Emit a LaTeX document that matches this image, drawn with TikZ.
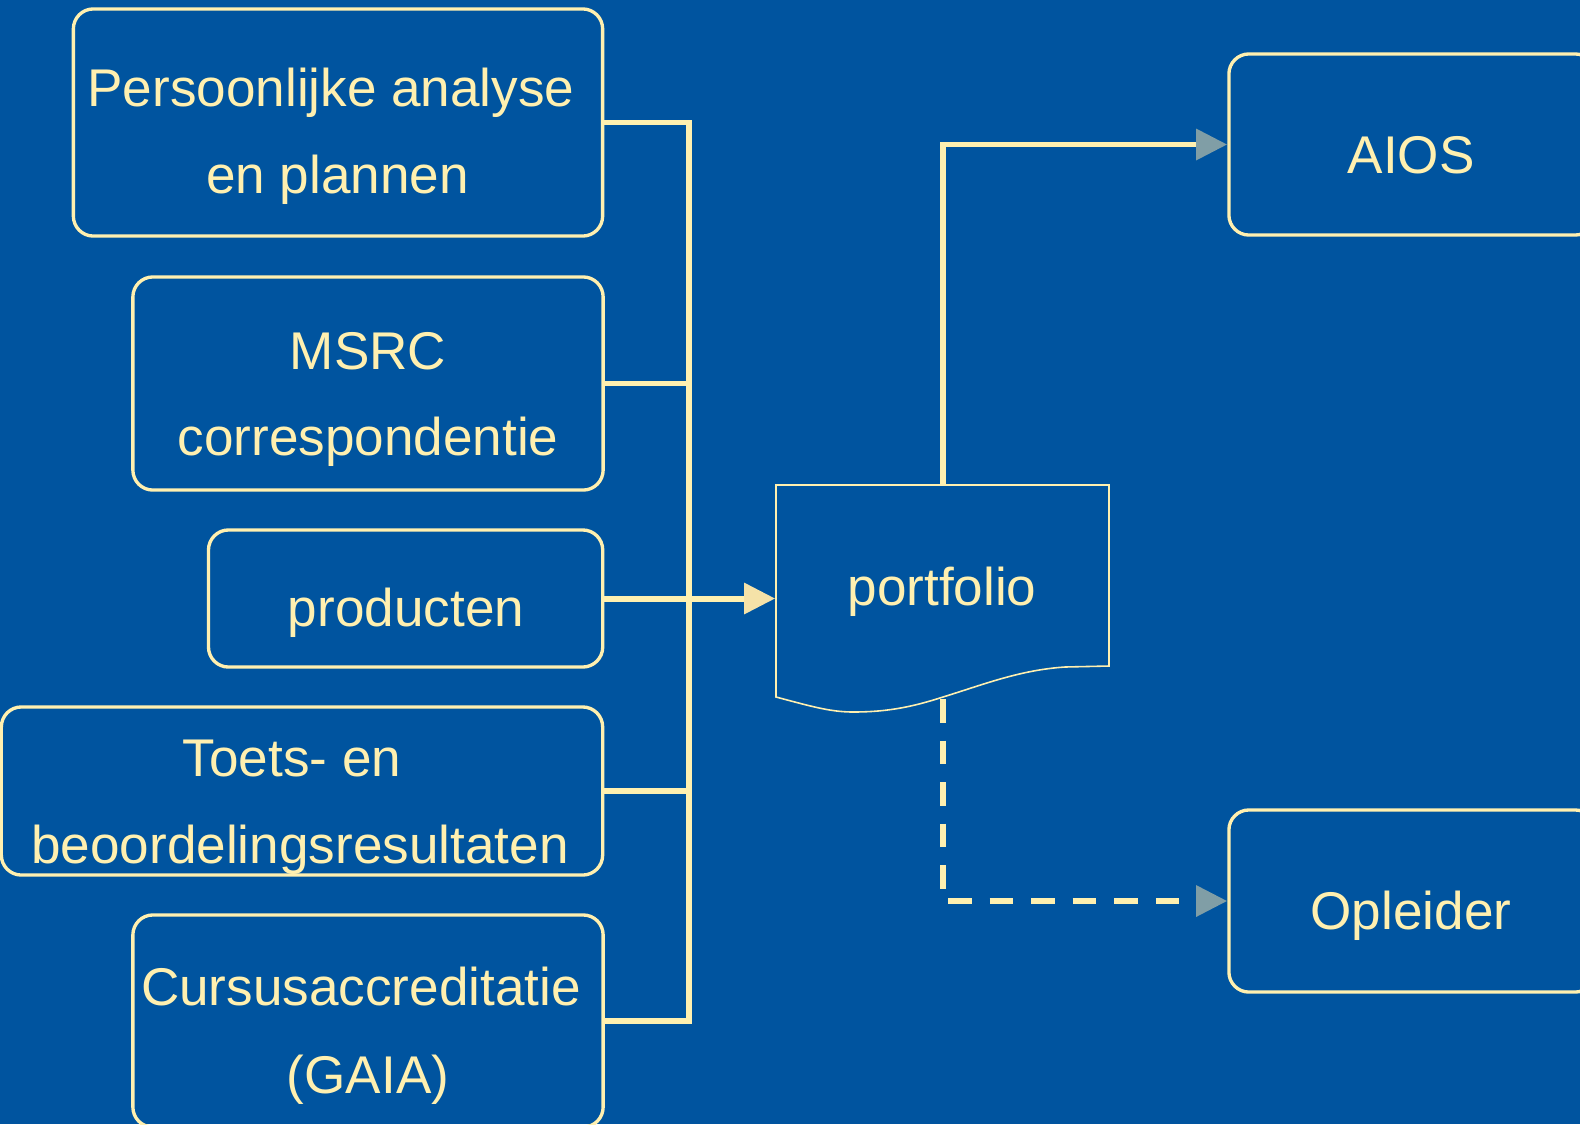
\documentclass[tikz,border=0pt]{standalone}
\usepackage{fontspec}
\setmainfont{Liberation Sans}
\usetikzlibrary{arrows.meta}
\definecolor{bg}{RGB}{0,84,159}
\definecolor{ln}{RGB}{255,240,176}
\definecolor{tipY}{RGB}{245,226,168}
\definecolor{tipG}{RGB}{128,158,166}
\begin{document}
\begin{tikzpicture}[x=0.01cm,y=-0.01cm,
  box/.style={draw=ln, line width=0.95pt, rounded corners=0.2cm, inner sep=0pt},
  txt/.style={text=ln, inner sep=0pt, anchor=base, font=\fontsize{15.1}{18}\selectfont},
  conn/.style={draw=ln, line width=1.7pt},
  tipyel/.style={-{Triangle[length=0.31cm,width=0.30cm,color=tipY]}},
  tipgray/.style={-{Triangle[length=0.31cm,width=0.30cm,color=tipG]}}]
\fill[bg] (0,0) rectangle (1580,1124);
\useasboundingbox (0,0) rectangle (1580,1124);
\begin{scope}
\clip (0,0) rectangle (1580,1124);
% boxes
\node[box, minimum width=5.29cm, minimum height=2.27cm] (b1) at (338,122.5) {};
\node[box, minimum width=4.70cm, minimum height=2.13cm] (b2) at (368,383.5) {};
\node[box, minimum width=3.94cm, minimum height=1.37cm] (b3) at (405.6,598.5) {};
\node[box, minimum width=6.01cm, minimum height=1.68cm] (b4) at (302,791) {};
\node[box, minimum width=4.70cm, minimum height=2.12cm] (b5) at (368,1021) {};
\node[box, minimum width=3.66cm, minimum height=1.81cm] (aios) at (1412,144.5) {};
\node[box, minimum width=3.66cm, minimum height=1.82cm] (opl) at (1412,901) {};
% portfolio document shape
\node[minimum width=3.33cm, minimum height=2.27cm, inner sep=0pt] (pf) at (942.5,598.5) {};
\draw[ln, line width=0.45pt] (776,485) -- (1109,485) -- (1109,666) -- (1065,667)
  .. controls (1020,670) and (985,684) .. (943,697)
  .. controls (915,706) and (890,712) .. (853,712)
  .. controls (830,712) and (810,706) .. (776,697) -- cycle;
% texts
\node[txt] (t1a) at (331,106) {Persoonlijke analyse};
\node[txt] (t1b) at (337.6,193.5) {en plannen};
\node[txt] (t2a) at (368,369) {MSRC};
\node[txt] (t2b) at (368,455.5) {correspondentie};
\node[txt] (t3) at (406,626) {producten};
\node[txt] (t4a) at (292,776) {Toets- en};
\node[txt] (t4b) at (300,863.5) {beoordelingsresultaten};
\node[txt] (t5a) at (361,1005.7) {Cursusaccreditatie};
\node[txt] (t5b) at (368,1093) {(GAIA)};
\node[txt] (pft) at (942,605) {portfolio};
\node[txt] (aiost) at (1411,173) {AIOS};
\node[txt] (oplt) at (1411,929) {Opleider};
% connectors
\coordinate (bt) at (689,122.5);
\coordinate (bb) at (689,1021);
\draw[conn] (b1.east) -- (bt) -- (bb) -- (b5.east);
\draw[conn] (b2.east) -- (b2.east -| bt);
\draw[conn] (b4.east) -- (b4.east -| bt);
\draw[conn, tipyel] (b3.east) -- (pf.west);
\draw[conn, tipgray] (pf.north) |- (aios.west);
\coordinate (pfb) at (942.5,699);
\draw[conn, dash pattern=on 0.235cm off 0.18cm, tipgray] (pfb) |- (opl.west);
\end{scope}
\end{tikzpicture}
\end{document}
